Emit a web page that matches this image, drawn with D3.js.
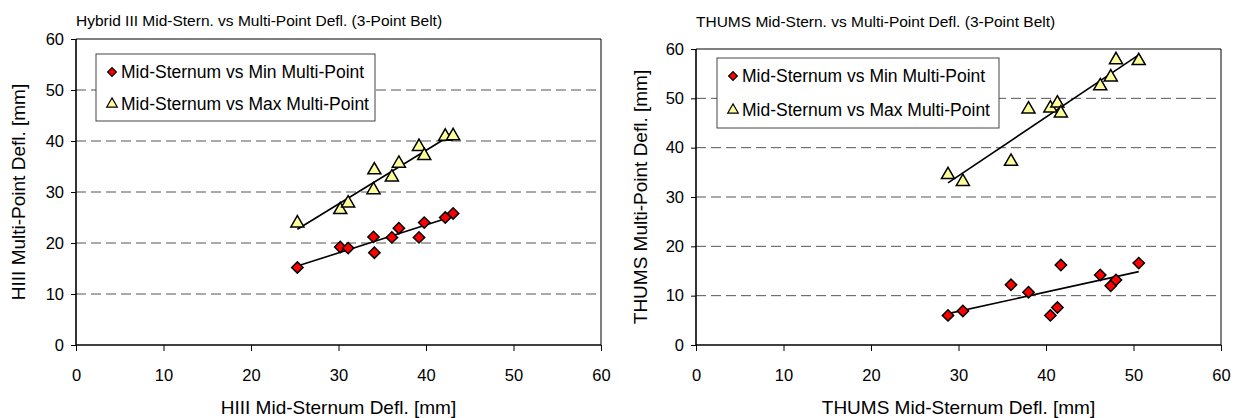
<!DOCTYPE html>
<html>
<head>
<meta charset="utf-8">
<script src="https://cdn.jsdelivr.net/npm/d3@7"></script>
<style>
  body { margin: 0; background: #fff; }
  text { font-family: "Liberation Sans", Arial, sans-serif; fill: #000; }
</style>
</head>
<body>
<div id="chart"></div>
<script>
(function () {
    var width = 1240, height = 418;

    // HIII panel
    var hiiiMid    = [25.3, 30.2, 31.1, 34.0, 34.1, 36.1, 36.9, 39.2, 39.8, 42.2, 43.1];
    var hiiiMin    = [15.2, 19.2, 19.0, 21.2, 18.1, 21.1, 22.9, 21.1, 24.0, 25.0, 25.8];
    var hiiiMax    = [23.9, 26.5, 27.8, 30.4, 34.3, 32.9, 35.6, 38.9, 37.1, 40.9, 41.0];

    // THUMS panel
    var thumsMid   = [28.8, 30.5, 36.0, 38.0, 40.5, 41.3, 41.7, 46.2, 47.4, 48.0, 50.6];
    var thumsMin   = [6.0, 6.9, 12.2, 10.7, 6.0, 7.6, 16.2, 14.2, 12.0, 13.2, 16.6];
    var thumsMax   = [34.5, 33.1, 37.2, 47.8, 48.0, 49.0, 47.0, 52.5, 54.3, 57.8, 57.6];

    var xTicks = [0, 10, 20, 30, 40, 50, 60];
    var yTicks = [0, 10, 20, 30, 40, 50, 60];
    var legendLabels = ["Mid-Sternum vs Min Multi-Point", "Mid-Sternum vs Max Multi-Point"];

    var svg = d3.select("#chart")
        .append("svg")
        .attr("width", width)
        .attr("height", height);

    // least squares line, like the excel trendline
    function fit(xs, ys) {
        var mx = d3.mean(xs), my = d3.mean(ys);
        var sxy = d3.sum(xs, (x, i) => (x - mx) * (ys[i] - my));
        var sxx = d3.sum(xs, x => (x - mx) * (x - mx));
        var b = sxy / sxx;
        return x => my + b * (x - mx);
    }

    function panel(p) {
        var x = d3.scaleLinear().domain([0, 60]).range([p.left, p.right]);
        var y = d3.scaleLinear().domain([0, 60]).range([p.bottom, p.top]);
        var g = svg.append("g");

        // grid
        g.append("g")
            .selectAll("line")
            .data(yTicks.filter(d => d > 0 && d < 60))
            .join("line")
            .attr("x1", p.left).attr("x2", p.right)
            .attr("y1", d => y(d)).attr("y2", d => y(d))
            .attr("stroke", "#555")
            .attr("stroke-width", 1)
            .attr("stroke-dasharray", "10,5");

        // plot area border (top / right)
        g.append("path")
            .attr("d", "M" + p.left + "," + y(60) + "H" + p.right + "V" + p.bottom)
            .attr("fill", "none")
            .attr("stroke", "#000")
            .attr("stroke-width", 1);

        var xAxis = g.append("g")
            .attr("transform", "translate(0," + p.bottom + ")")
            .call(d3.axisBottom(x).tickValues(xTicks).tickSize(6).tickPadding(18));
        var yAxis = g.append("g")
            .attr("transform", "translate(" + p.left + ",0)")
            .call(d3.axisLeft(y).tickValues(yTicks).tickSize(5).tickPadding(7));
        [xAxis, yAxis].forEach(function (a) {
            a.select(".domain").attr("stroke", "#000").attr("stroke-width", 1.6);
            a.selectAll(".tick line").attr("stroke", "#000");
            a.selectAll(".tick text")
                .style("font-family", "'Liberation Sans', Arial, sans-serif")
                .style("font-size", "16.5px").attr("fill", "#000");
        });
        xAxis.select(".domain").attr("d", "M" + p.left + ",0H" + p.right);
        yAxis.select(".domain").attr("d", "M0," + p.bottom + "V" + y(60));

        // trendlines
        [[p.mid, p.min], [p.mid, p.max]].forEach(function (s) {
            var f = fit(s[0], s[1]);
            var x0 = d3.min(s[0]), x1 = d3.max(s[0]);
            g.append("line")
                .attr("x1", x(x0)).attr("y1", y(f(x0)))
                .attr("x2", x(x1)).attr("y2", y(f(x1)))
                .attr("stroke", "#000")
                .attr("stroke-width", 1.6);
        });

        var diamond = d3.symbol().type(d3.symbolSquare).size(64);
        var tri = d3.symbol().type(d3.symbolTriangle).size(74);

        g.append("g")
            .selectAll("path")
            .data(p.mid.map((m, i) => [m, p.min[i]]))
            .join("path")
            .attr("d", diamond)
            .attr("transform", d => "translate(" + x(d[0]) + "," + y(d[1]) + ") rotate(45)")
            .attr("fill", "#ff0000")
            .attr("stroke", "#000")
            .attr("stroke-width", 1.5);

        g.append("g")
            .selectAll("path")
            .data(p.mid.map((m, i) => [m, p.max[i]]))
            .join("path")
            .attr("d", tri)
            .attr("transform", d => "translate(" + x(d[0]) + "," + y(d[1]) + ")")
            .attr("fill", "#ffff99")
            .attr("stroke", "#000")
            .attr("stroke-width", 1.5);

        // legend
        var lg = g.append("g").attr("transform", "translate(" + p.legX + "," + p.legY + ")");
        lg.append("rect")
            .attr("width", p.legW).attr("height", p.legH)
            .attr("fill", "#fff")
            .attr("stroke", "#444")
            .attr("stroke-width", 1);
        lg.append("path")
            .attr("d", d3.symbol().type(d3.symbolSquare).size(38))
            .attr("transform", "translate(16," + p.legRow1 + ") rotate(45)")
            .attr("fill", "#ff0000").attr("stroke", "#000").attr("stroke-width", 1.2);
        lg.append("path")
            .attr("d", d3.symbol().type(d3.symbolTriangle).size(48))
            .attr("transform", "translate(16," + p.legRow2 + ")")
            .attr("fill", "#ffff99").attr("stroke", "#000").attr("stroke-width", 1.2);
        lg.selectAll("text.leg")
            .data(legendLabels)
            .join("text")
            .attr("class", "leg")
            .attr("x", 25)
            .attr("y", (d, i) => i == 0 ? p.legRow1 : p.legRow2)
            .attr("dy", "0.36em")
            .style("font-size", "17.5px")
            .text(d => d);

        // titles
        g.append("text")
            .attr("x", p.left).attr("y", p.titleY)
            .style("font-size", "15.5px")
            .text(p.title);
        g.append("text")
            .attr("x", (p.left + p.right) / 2).attr("y", 414)
            .attr("text-anchor", "middle")
            .style("font-size", "19px")
            .text(p.xTitle);
        g.append("text")
            .attr("transform", "translate(" + p.yTitleX + "," + (p.top + p.bottom) / 2 + ") rotate(-90)")
            .attr("text-anchor", "middle")
            .style("font-size", "19px")
            .text(p.yTitle);
    }

    panel({
        left: 76, right: 601, top: 39, bottom: 345,
        mid: hiiiMid, min: hiiiMin, max: hiiiMax,
        legX: 96, legY: 54, legW: 279, legH: 67, legRow1: 18, legRow2: 50,
        title: "Hybrid III Mid-Stern. vs Multi-Point Defl. (3-Point Belt)", titleY: 26,
        xTitle: "HIII Mid-Sternum Defl. [mm]",
        yTitle: "HIII Multi-Point Defl. [mm]", yTitleX: 25
    });

    panel({
        left: 696, right: 1221, top: 49, bottom: 345,
        mid: thumsMid, min: thumsMin, max: thumsMax,
        legX: 717, legY: 58, legW: 282, legH: 70, legRow1: 18, legRow2: 52,
        title: "THUMS Mid-Stern. vs Multi-Point Defl. (3-Point Belt)", titleY: 27,
        xTitle: "THUMS Mid-Sternum Defl. [mm]",
        yTitle: "THUMS Multi-Point Defl. [mm]", yTitleX: 647
    });
})();
</script>
</body>
</html>
